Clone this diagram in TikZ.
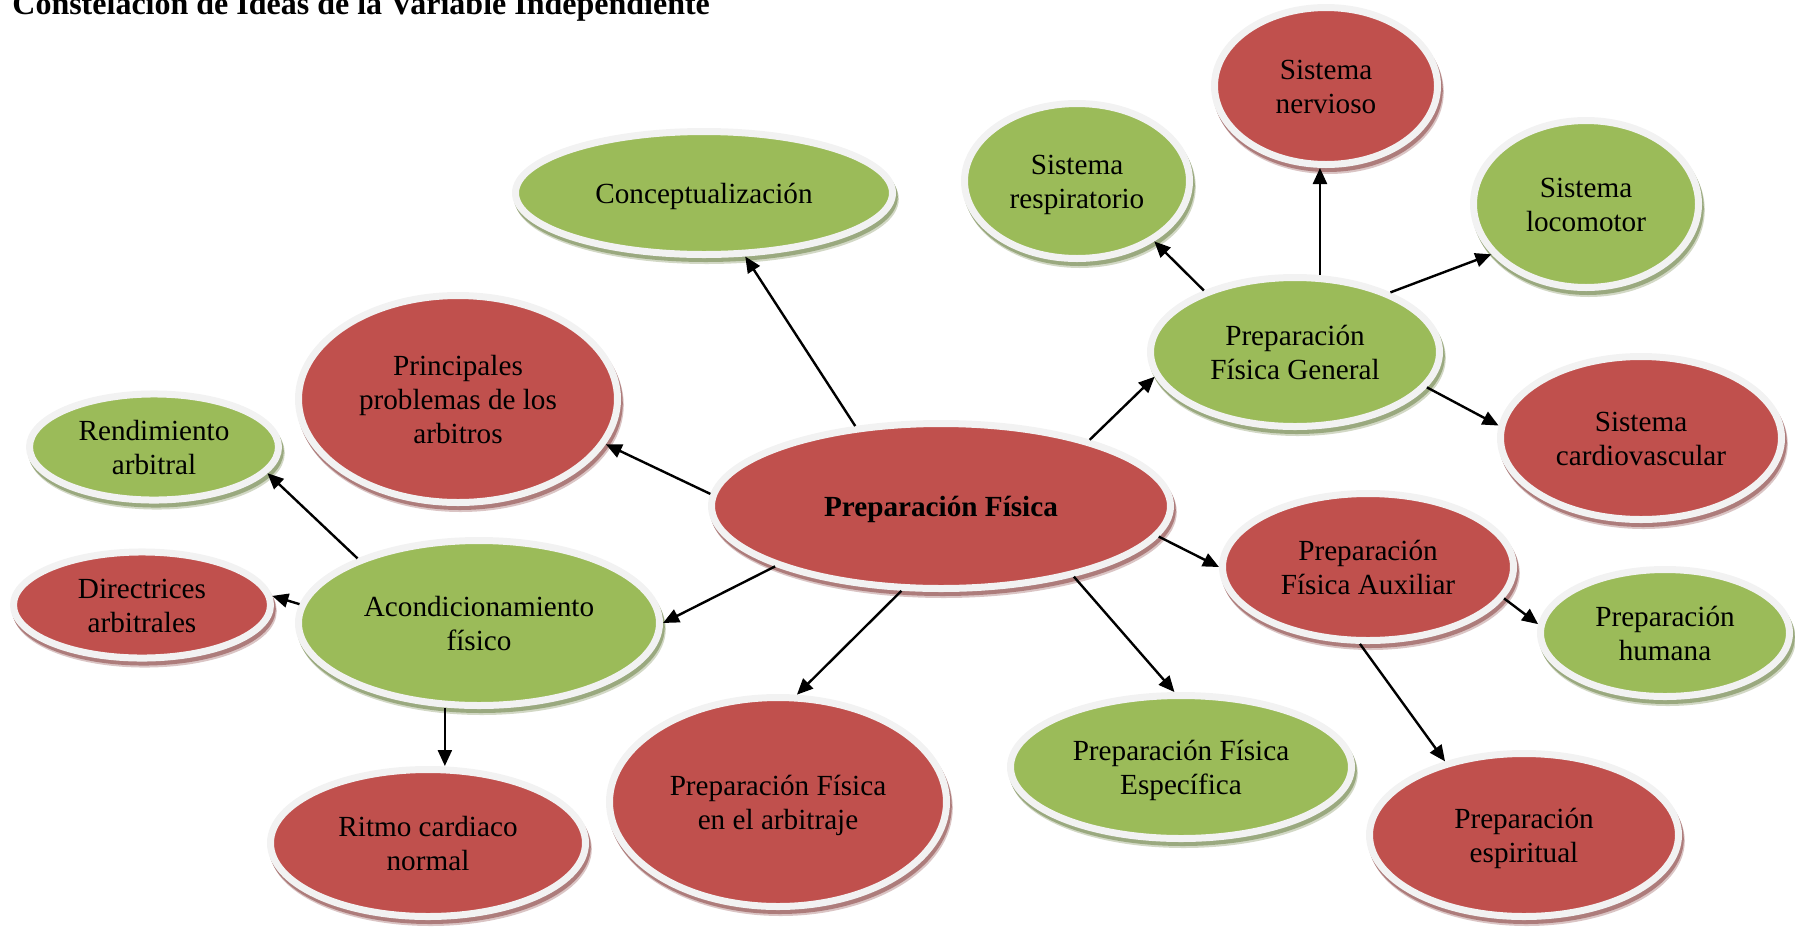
\documentclass[tikz,border=0pt]{standalone}
\usepackage{fontspec}
\setmainfont{Liberation Serif}
\usetikzlibrary{shapes.geometric,arrows.meta}
\definecolor{bubred}{HTML}{C0504D}
\definecolor{bubgreen}{HTML}{9BBB59}
\definecolor{rim}{HTML}{F2F2F2}
\definecolor{shred}{HTML}{AD7C7B}
\definecolor{shgreen}{HTML}{9AA97F}

% centred lines of a bubble, with a little extra room on top
\newcommand\btext[1]{\begin{tabular}{@{}c@{}}\rule{0pt}{15.4pt}#1\end{tabular}}

\begin{document}
\begin{tikzpicture}[x=0.5pt,y=-0.5pt,
  bubble/.style n args={4}{ellipse, fill=#1, draw=rim, line width=3.5pt, inner sep=0pt,
    minimum width={(#3-3.5)*1pt}, minimum height={(#4-3.5)*1pt},
    font=\fontsize{14.6}{17}\selectfont,
    preaction={fill=#2!45, draw=#2!45, transform canvas={shift={(1.4pt,-3pt)}}},
    preaction={fill=#2, draw=#2, transform canvas={shift={(0.9pt,-2pt)}}}},
  rbub/.style 2 args={bubble={bubred}{shred}{#1}{#2}},
  gbub/.style 2 args={bubble={bubgreen}{shgreen}{#1}{#2}},
  arr/.style={-{Triangle[length=8pt,width=7pt]}, line width=1.2pt, black}]

\useasboundingbox (0,0) rectangle (1795,928);
\clip (0,0) rectangle (1795,928);

% heading
\node[anchor=base west, inner sep=0pt, font=\fontsize{16}{19}\selectfont\bfseries] (title) at (12,14)
  {Constelación de Ideas de la Variable Independiente};

% central idea and its branches
\node[rbub={233}{86}, font=\fontsize{14.6}{17}\selectfont\bfseries] (pf) at (941,506) {\btext{Preparación Física}};
\node[gbub={192}{65}] (concept) at (704,193) {\btext{Conceptualización}};
\node[rbub={163}{107}] (princ) at (458,399) {\btext{Principales\\problemas de los\\arbitros}};
\node[gbub={184}{86}] (acond) at (479,623) {\btext{Acondicionamiento\\físico}};
\node[rbub={172}{108}] (pfarb) at (778,802) {\btext{Preparación Física\\en el arbitraje}};
\node[gbub={174}{75}] (espec) at (1181,767) {\btext{Preparación Física\\Específica}};
\node[rbub={149}{77}] (aux) at (1368,567) {\btext{Preparación\\Física Auxiliar}};
\node[gbub={148}{78}] (gen) at (1295,352) {\btext{Preparación\\Física General}};

% second level
\node[gbub={128}{52}] (rend) at (154,447) {\btext{Rendimiento\\arbitral}};
\node[rbub={132}{55}] (direc) at (142,605) {\btext{Directrices\\arbitrales}};
\node[rbub={161}{77}] (ritmo) at (428,843) {\btext{Ritmo cardiaco\\normal}};
\node[gbub={128}{67}] (humana) at (1665,633) {\btext{Preparación\\humana}};
\node[rbub={158}{85}] (espir) at (1524,835) {\btext{Preparación\\espiritual}};
\node[gbub={116}{81}] (resp) at (1077,181) {\btext{Sistema\\respiratorio}};
\node[rbub={115}{82}] (nerv) at (1326,86) {\btext{Sistema\\nervioso}};
\node[gbub={116}{87}] (loco) at (1586,204) {\btext{Sistema\\locomotor}};
\node[rbub={144}{85}] (cardio) at (1641,438) {\btext{Sistema\\cardiovascular}};

% connectors
\draw[arr] (pf.137) -- (concept.-57);
\draw[arr] (pf.177) -- (princ.-17);
\draw[arr] (pf.-160) -- (acond.0);
\draw[arr] (pf.-115) -- (pfarb.80);
\draw[arr] (pf.-28) -- (espec.95);
\draw[arr] (pf.-8) -- (aux.180);
\draw[arr] (pf.24) -- (gen.-170);
\draw[arr] (gen.146) -- (resp.-38);
\draw[arr] (gen.72) -- (gen.72 |- nerv.south);
\draw[arr] (gen.32) -- (loco.-152);
\draw[arr] (gen.-15) -- (cardio.175);
\draw[arr] (aux.-13) -- (humana.176);
\draw[arr] (aux.-96) -- (espir.137);
\draw[arr] (acond.152) -- (rend.-13);
\draw[arr] (acond.174) -- (direc.4);
\draw[arr] (acond.-112) -- (acond.-112 |- ritmo.north);
\end{tikzpicture}
\end{document}
